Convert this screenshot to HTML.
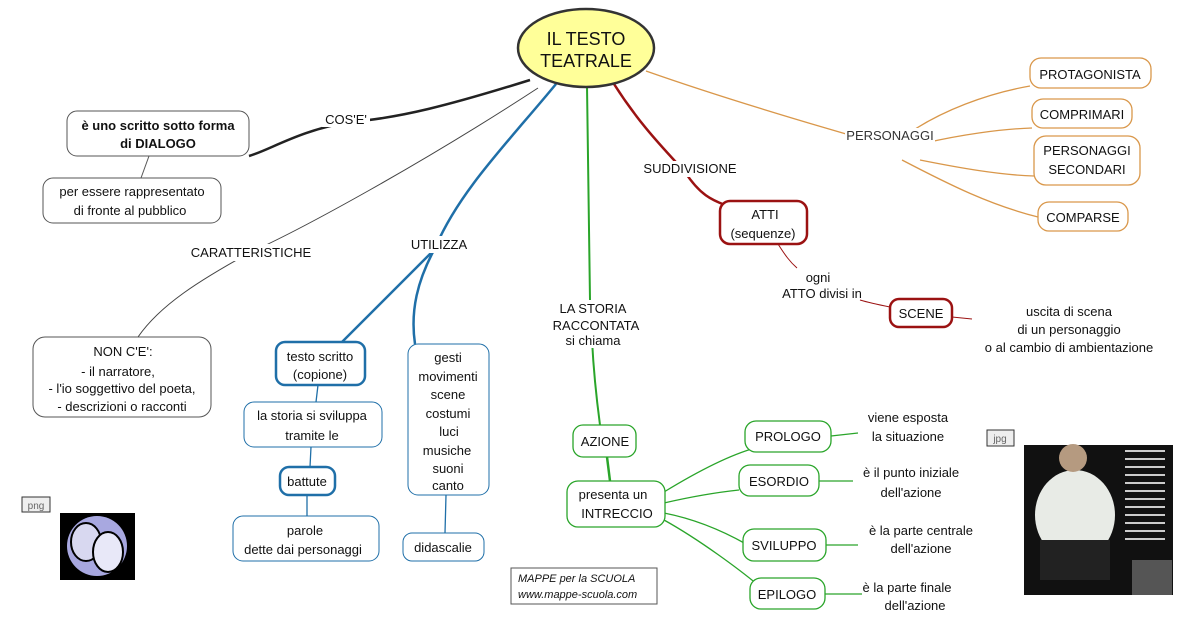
<!DOCTYPE html>
<html><head><meta charset="utf-8"><style>
html,body{margin:0;padding:0;background:#fff;}
svg{display:block;font-family:"Liberation Sans",sans-serif;}
text{font-size:13px;fill:#111;}
</style></head><body>
<svg width="1200" height="630" viewBox="0 0 1200 630">
<rect width="1200" height="630" fill="#fff"/>
<!-- connectors -->
<g fill="none">
<path d="M530,80 C450,105 400,118 350,122 C300,130 270,150 249,156" stroke="#222" stroke-width="2.5"/>
<path d="M149,156 L141,178" stroke="#555" stroke-width="1"/>
<path d="M538,88 C420,165 300,230 251,252 C200,280 160,305 138,337" stroke="#444" stroke-width="1"/>
<path d="M556,84 C510,140 460,190 436,246" stroke="#1f6fa8" stroke-width="2.5"/>
<path d="M434,250 L342,342" stroke="#1f6fa8" stroke-width="2.5"/>
<path d="M434,250 C418,280 410,310 415,344" stroke="#1f6fa8" stroke-width="2.5"/>
<path d="M318,385 L316,402 M311,447 L310,467 M307,495 L307,516 M446,495 L445,533" stroke="#1f6fa8" stroke-width="1.3"/>
<path d="M587,86 L590,300 M592,340 C594,380 598,410 600,425" stroke="#2aa52a" stroke-width="2"/>
<path d="M607,457 L610,481" stroke="#2aa52a" stroke-width="2.5"/>
<path d="M664,492 C700,470 730,455 755,448 M664,503 C690,497 720,492 739,490 M664,513 C700,520 730,535 746,544 M664,520 C700,540 740,570 758,585" stroke="#2aa52a" stroke-width="1.3"/>
<path d="M831,436 L858,433 M819,481 L853,481 M826,545 L858,545 M825,594 L862,594" stroke="#2aa52a" stroke-width="1.3"/>
<path d="M614,84 C640,125 665,150 685,172 C700,195 712,200 725,205" stroke="#9b1212" stroke-width="2.5"/>
<path d="M778,244 C785,255 790,262 797,268 M860,300 C870,303 880,305 890,307 M952,317 L972,319" stroke="#9b1212" stroke-width="1"/>
<path d="M646,71 C700,90 780,115 860,138" stroke="#d9974a" stroke-width="1.3"/>
<path d="M902,138 C940,110 990,93 1030,86 M925,143 C960,135 1000,129 1032,128 M920,160 C960,168 1000,175 1034,176 M902,160 C950,185 990,205 1038,217" stroke="#d9974a" stroke-width="1.3"/>
</g>
<!-- central ellipse -->
<ellipse cx="586" cy="48" rx="68" ry="39" fill="#ffff99" stroke="#333" stroke-width="2.5"/>
<text x="586" y="45" text-anchor="middle" style="font-size:18px">IL TESTO</text>
<text x="586" y="67" text-anchor="middle" style="font-size:18px">TEATRALE</text>
<!-- black/gray boxes -->
<g fill="#fff" stroke="#555" stroke-width="1">
<rect x="67" y="111" width="182" height="45" rx="10"/>
<rect x="43" y="178" width="178" height="45" rx="10"/>
<rect x="33" y="337" width="178" height="80" rx="12"/>
</g>
<text x="158" y="130" text-anchor="middle" style="font-weight:bold">è uno scritto sotto forma</text>
<text x="158" y="148" text-anchor="middle" style="font-weight:bold">di DIALOGO</text>
<text x="132" y="196" text-anchor="middle">per essere rappresentato</text>
<text x="130" y="215" text-anchor="middle">di fronte al pubblico</text>
<text x="123" y="356" text-anchor="middle">NON C'E':</text>
<text x="118" y="376" text-anchor="middle">-  il narratore,</text>
<text x="122" y="393" text-anchor="middle">- l'io soggettivo del poeta,</text>
<text x="122" y="411" text-anchor="middle">- descrizioni o racconti</text>
<!-- blue boxes -->
<g fill="#fff" stroke="#1f6fa8">
<rect x="276" y="342" width="89" height="43" rx="9" stroke-width="2.5"/>
<rect x="244" y="402" width="138" height="45" rx="10" stroke-width="1"/>
<rect x="280" y="467" width="55" height="28" rx="9" stroke-width="2.5"/>
<rect x="233" y="516" width="146" height="45" rx="10" stroke-width="1"/>
<rect x="408" y="344" width="81" height="151" rx="10" stroke-width="1"/>
<rect x="403" y="533" width="81" height="28" rx="9" stroke-width="1"/>
</g>
<text x="320" y="361" text-anchor="middle">testo scritto</text>
<text x="320" y="379" text-anchor="middle">(copione)</text>
<text x="312" y="420" text-anchor="middle">la storia si sviluppa</text>
<text x="312" y="440" text-anchor="middle">tramite le</text>
<text x="307" y="486" text-anchor="middle">battute</text>
<text x="305" y="535" text-anchor="middle">parole</text>
<text x="303" y="554" text-anchor="middle">dette dai personaggi</text>
<g text-anchor="middle">
<text x="448" y="362">gesti</text><text x="448" y="381">movimenti</text><text x="448" y="399">scene</text>
<text x="448" y="418">costumi</text><text x="449" y="436">luci</text><text x="447" y="455">musiche</text>
<text x="448" y="473">suoni</text><text x="448" y="490">canto</text>
</g>
<text x="443" y="552" text-anchor="middle">didascalie</text>
<!-- green boxes -->
<g fill="#fff" stroke="#2aa52a" stroke-width="1.3">
<rect x="573" y="425" width="63" height="32" rx="10"/>
<rect x="567" y="481" width="98" height="46" rx="11"/>
<rect x="745" y="421" width="86" height="31" rx="11"/>
<rect x="739" y="465" width="80" height="31" rx="11"/>
<rect x="743" y="529" width="83" height="32" rx="11"/>
<rect x="750" y="578" width="75" height="31" rx="11"/>
</g>
<text x="605" y="446" text-anchor="middle">AZIONE</text>
<text x="613" y="499" text-anchor="middle">presenta un</text>
<text x="617" y="518" text-anchor="middle">INTRECCIO</text>
<text x="788" y="441" text-anchor="middle">PROLOGO</text>
<text x="779" y="486" text-anchor="middle">ESORDIO</text>
<text x="784" y="550" text-anchor="middle">SVILUPPO</text>
<text x="787" y="599" text-anchor="middle">EPILOGO</text>
<text x="908" y="422" text-anchor="middle">viene esposta</text>
<text x="908" y="441" text-anchor="middle">la situazione</text>
<text x="911" y="477" text-anchor="middle">è il punto iniziale</text>
<text x="911" y="497" text-anchor="middle">dell'azione</text>
<text x="921" y="535" text-anchor="middle">è la parte centrale</text>
<text x="921" y="553" text-anchor="middle">dell'azione</text>
<text x="907" y="592" text-anchor="middle">è la parte finale</text>
<text x="915" y="610" text-anchor="middle">dell'azione</text>
<!-- red boxes -->
<g fill="#fff" stroke="#9b1212" stroke-width="2.5">
<rect x="720" y="201" width="87" height="43" rx="10"/>
<rect x="890" y="299" width="62" height="28" rx="9"/>
</g>
<text x="765" y="219" text-anchor="middle">ATTI</text>
<text x="763" y="238" text-anchor="middle">(sequenze)</text>
<text x="921" y="318" text-anchor="middle">SCENE</text>
<text x="818" y="282" text-anchor="middle">ogni</text>
<text x="822" y="298" text-anchor="middle">ATTO divisi in</text>
<text x="1069" y="316" text-anchor="middle">uscita di scena</text>
<text x="1069" y="334" text-anchor="middle">di un personaggio</text>
<text x="1069" y="352" text-anchor="middle">o al cambio di ambientazione</text>
<!-- orange -->
<g fill="#fff" stroke="#d9974a" stroke-width="1.3">
<rect x="1030" y="58" width="121" height="30" rx="11"/>
<rect x="1032" y="99" width="100" height="29" rx="11"/>
<rect x="1034" y="136" width="106" height="49" rx="12"/>
<rect x="1038" y="202" width="90" height="29" rx="11"/>
</g>
<text x="1090" y="79" text-anchor="middle">PROTAGONISTA</text>
<text x="1082" y="119" text-anchor="middle">COMPRIMARI</text>
<text x="1087" y="155" text-anchor="middle">PERSONAGGI</text>
<text x="1087" y="174" text-anchor="middle">SECONDARI</text>
<text x="1083" y="222" text-anchor="middle">COMPARSE</text>
<!-- link labels -->
<rect x="322" y="112" width="48" height="15" fill="#fff"/>
<text x="346" y="124" text-anchor="middle">COS'E'</text>
<rect x="188" y="244" width="126" height="17" fill="#fff"/>
<text x="251" y="257" text-anchor="middle">CARATTERISTICHE</text>
<rect x="408" y="236" width="62" height="17" fill="#fff"/>
<text x="439" y="249" text-anchor="middle">UTILIZZA</text>
<rect x="550" y="301" width="90" height="47" fill="#fff"/>
<text x="593" y="313" text-anchor="middle">LA STORIA</text>
<text x="596" y="330" text-anchor="middle">RACCONTATA</text>
<text x="593" y="345" text-anchor="middle">si chiama</text>
<rect x="642" y="161" width="96" height="16" fill="#fff"/>
<text x="690" y="173" text-anchor="middle">SUDDIVISIONE</text>
<rect x="845" y="128" width="90" height="16" fill="#fff"/>
<text x="890" y="140" text-anchor="middle" style="fill:#333">PERSONAGGI</text>
<!-- credit -->
<rect x="511" y="568" width="146" height="36" fill="#fff" stroke="#555" stroke-width="1"/>
<text x="518" y="582" style="font-size:11px;font-style:italic">MAPPE per la SCUOLA</text>
<text x="518" y="598" style="font-size:11px;font-style:italic">www.mappe-scuola.com</text>
<!-- png -->
<rect x="22" y="497" width="28" height="15" fill="#eee" stroke="#333"/>
<text x="36" y="509" text-anchor="middle" style="font-size:10px;fill:#666">png</text>
<rect x="60" y="513" width="75" height="67" fill="#000"/>
<circle cx="97" cy="546" r="30" fill="#a8a8e0"/>
<ellipse cx="86" cy="542" rx="15" ry="19" fill="#d8d8f0" stroke="#000" stroke-width="2"/>
<ellipse cx="108" cy="552" rx="15" ry="20" fill="#e8e8f8" stroke="#000" stroke-width="2"/>
<!-- jpg -->
<rect x="987" y="430" width="27" height="16" fill="#eee" stroke="#333"/>
<text x="1000" y="442" text-anchor="middle" style="font-size:10px;fill:#666">jpg</text>
<rect x="1024" y="445" width="149" height="150" fill="#111"/>
<ellipse cx="1075" cy="515" rx="40" ry="45" fill="#e8ebe6"/>
<circle cx="1073" cy="458" r="14" fill="#b59a80"/>
<rect x="1040" y="540" width="70" height="40" fill="#222"/>
<rect x="1132" y="560" width="40" height="35" fill="#555"/>
<g fill="#ccc"><rect x="1125" y="450" width="40" height="2"/><rect x="1125" y="458" width="40" height="2"/><rect x="1125" y="466" width="40" height="2"/><rect x="1125" y="474" width="40" height="2"/><rect x="1125" y="482" width="40" height="2"/><rect x="1125" y="490" width="40" height="2"/><rect x="1125" y="498" width="40" height="2"/><rect x="1125" y="506" width="40" height="2"/><rect x="1125" y="514" width="40" height="2"/><rect x="1125" y="522" width="40" height="2"/><rect x="1125" y="530" width="40" height="2"/><rect x="1125" y="538" width="40" height="2"/></g>
</svg>
</body></html>
